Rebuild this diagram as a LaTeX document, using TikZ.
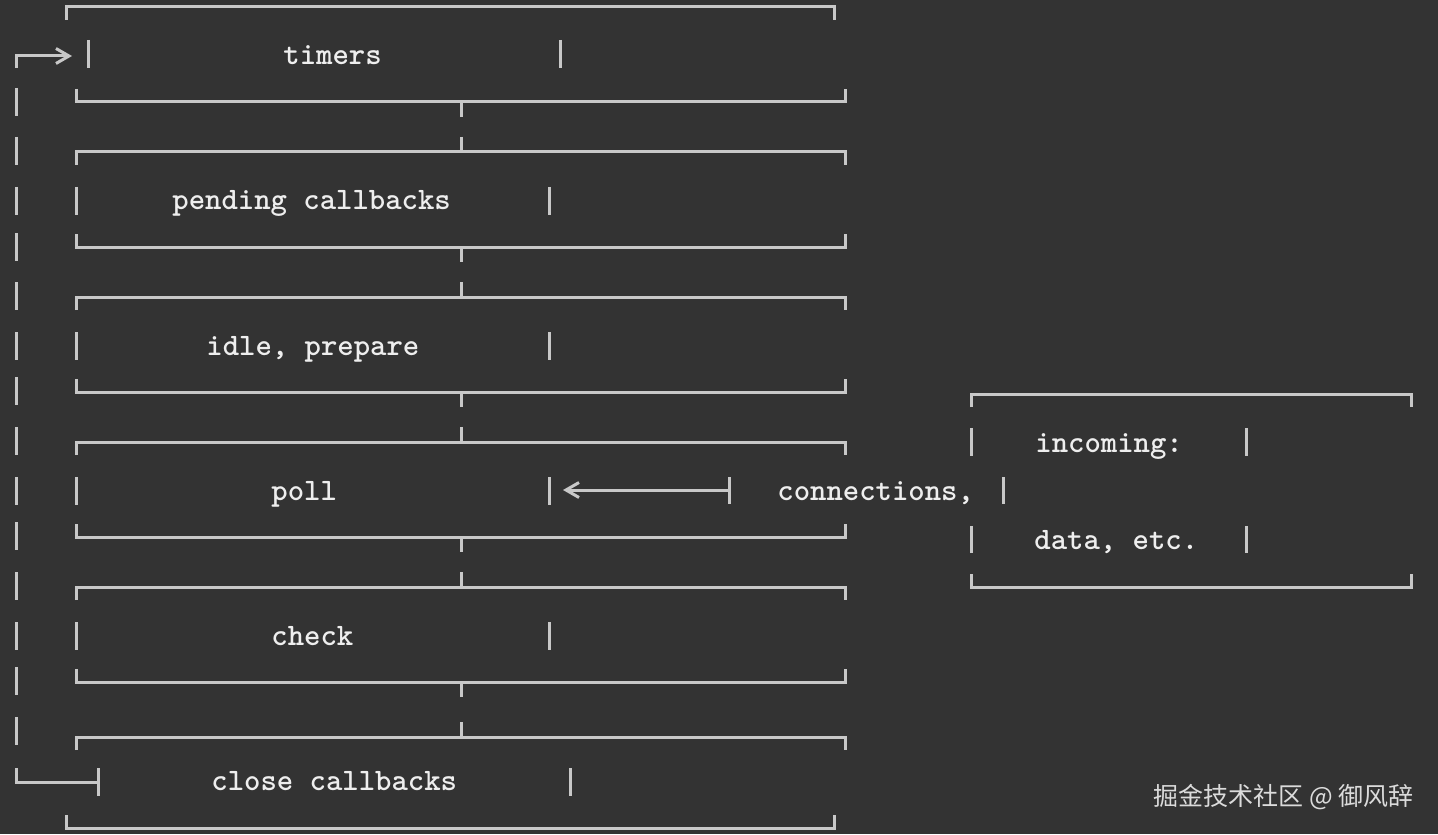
\documentclass[tikz,border=0pt]{standalone}
\usepackage{fontspec}
\newfontfamily\cjkfont{Noto Sans CJK SC}
\usetikzlibrary{arrows.meta}
\definecolor{bg}{RGB}{51,51,51}
\definecolor{ink}{RGB}{200,200,200}
\definecolor{txt}{RGB}{238,238,238}
\tikzset{
  wire/.style={draw=ink,line width=1.5pt},
  barb/.style={-{Straight Barb[length=6.5pt,width=7.5pt,line width=1.5pt]}},
  phase/.style={text=txt,font=\fontsize{15.6}{18}\selectfont\ttfamily\bfseries,inner sep=0pt,anchor=base west},
}

\begin{document}
\begin{tikzpicture}[x=0.5pt,y=-0.5pt]
  \fill[bg] (0,0) rectangle (1438,834);
  \useasboundingbox (0,0) rectangle (1438,834);

  % phase boxes: top y / bottom y / top line from-to / bottom line from-to
  \foreach \t/\b/\tl/\tr/\bl/\br in {7/102/66/834/76/845, 152/247/76/845/76/845,
      297/392/76/845/76/845, 442/537/76/845/76/845, 587/682/76/845/76/845, 737/828/76/845/66/834} {
    \draw[wire] (\tl,\t+13) -- (\tl,\t) -- (\tr,\t) -- (\tr,\t+13);
    \draw[wire] (\bl,\b-13) -- (\bl,\b) -- (\br,\b) -- (\br,\b-13);
  }
  \foreach \b/\t in {102/152, 247/297, 392/442, 537/587, 682/737}
    \draw[wire] (461,\b) -- (461,\b+15) (461,\t-15) -- (461,\t);
  \foreach \y/\l/\r in {54/88/560, 201/76/549, 346/76/549, 491/76/549, 636/76/549, 782/98/570}
    \draw[wire] (\l,\y-14) -- (\l,\y+14) (\r,\y-14) -- (\r,\y+14);

  \node[phase] (timers) at (283,65) {timers};
  \node[phase] (pending) at (172,210) {pending callbacks};
  \node[phase] (idle) at (206,355) {idle, prepare};
  \node[phase] (poll) at (271,500) {poll};
  \node[phase] (check) at (271,645) {check};
  \node[phase] (close) at (211,790) {close callbacks};

  % loop back from close callbacks to timers
  \coordinate (closebar) at (98,782);
  \coordinate (timersin) at (72,56);
  \coordinate (loopbot) at (16,768);
  \coordinate (looptop) at (16,68);
  \draw[wire] (loopbot) |- (closebar);
  \draw[wire,barb] (looptop) |- (timersin);
  \foreach \y in {102,151,201,247,296,346,391,441,491,536,586,636,681,731}
    \draw[wire] (16,\y-14) -- (16,\y+14);

  % incoming box
  \draw[wire] (971,407) -- (971,394) -- (1411,394) -- (1411,407);
  \draw[wire] (971,574) -- (971,587) -- (1411,587) -- (1411,574);
  \draw[wire] (971,428) -- (971,456) (1246,428) -- (1246,456)
              (1003,477) -- (1003,504)
              (971,526) -- (971,553) (1246,526) -- (1246,553);
  \node[phase] (incoming) at (1035,452) {incoming:};
  \node[phase] (conn) at (777,500) {connections,};
  \node[phase] (data) at (1034,549) {data, etc.};

  \coordinate (connbar) at (729,490);
  \coordinate (pollbar) at (563,490);
  \draw[wire] (729,477) -- (729,504);
  \draw[wire,barb] (connbar) -- (pollbar);

  \node[anchor=base west,inner sep=0pt,text=txt!92!black,font=\cjkfont\fontsize{12.5}{14}\selectfont]
    (credit) at (1153,805) {掘金技术社区 @ 御风辞};
\end{tikzpicture}
\end{document}
